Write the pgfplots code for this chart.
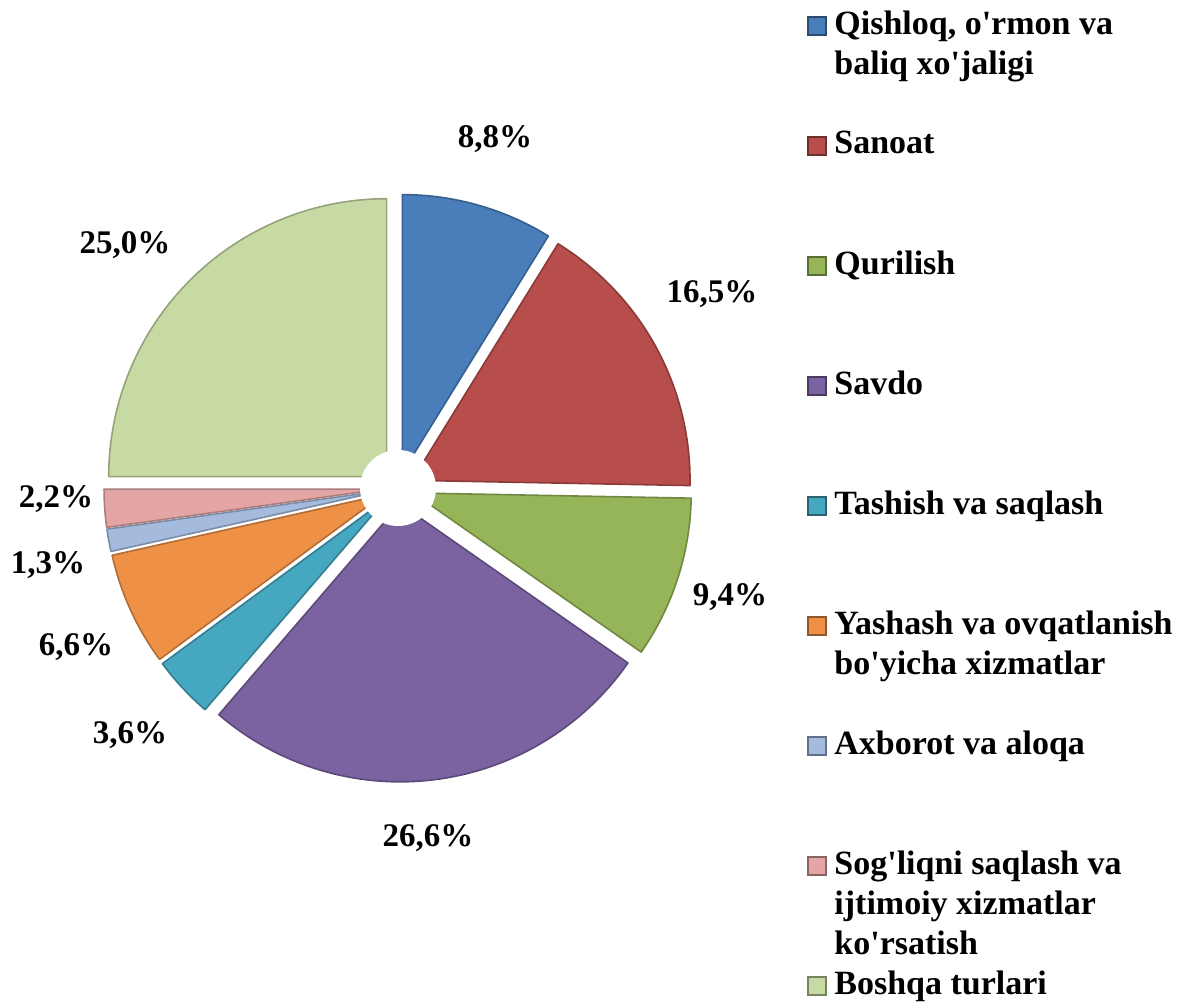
\documentclass[border=0pt]{standalone}
\usepackage{pgfplots}
\pgfplotsset{compat=1.18}
\usepackage{pgfplotstable}
\usepackage{fontspec}
\setmainfont{Liberation Serif}[BoldFont={Liberation Serif Bold}]

% slice colours, in the order of the table
\definecolor{c0}{HTML}{4A7EBB}
\definecolor{c1}{HTML}{B84E4B}
\definecolor{c2}{HTML}{95B558}
\definecolor{c3}{HTML}{7B62A0}
\definecolor{c4}{HTML}{46A7C0}
\definecolor{c5}{HTML}{EE9147}
\definecolor{c6}{HTML}{A5BBDD}
\definecolor{c7}{HTML}{E4A6A5}
\definecolor{c8}{HTML}{C8DAA3}

% share in %, position of the percent label (pixels of the picture)
\pgfplotstableread{
share labx laby
8.8   495 139
16.5  712 294
9.4   730 597
26.6  428 838
3.6   130 735
6.6   76  647
1.3   48  565
2.2   56  499
25.0  125 245
}\pietable

\def\cxo{398}  % pie centre
\def\cyo{514}
\def\rad{278}  % radius
\def\expl{16}  % explosion
\def\q{\textquotesingle}

\begin{document}
\begin{tikzpicture}
\begin{axis}[
    hide axis,
    x=0.5pt, y=0.5pt,
    xmin=0, xmax=1180, ymin=0, ymax=1002,
    scale only axis,
    clip=false,
]
\coordinate (sw) at (rel axis cs:0,0);
\coordinate (ne) at (rel axis cs:1,1);

\xdef\cum{0}
\pgfplotsinvokeforeach{0,...,8}{
  \pgfplotstablegetelem{#1}{share}\of\pietable
  \let\val\pgfplotsretval
  \pgfmathsetmacro{\a}{3.6*\cum}
  \pgfmathsetmacro{\b}{3.6*(\cum+\val)}
  \pgfmathsetmacro{\m}{(\a+\b)/2}
  \pgfmathsetmacro{\cx}{\cxo+\expl*sin(\m)}
  \pgfmathsetmacro{\cy}{\cyo+\expl*cos(\m)}
  \pgfmathsetmacro{\newcum}{\cum+\val}
  \xdef\cum{\newcum}
  \edef\temp{\noexpand\addplot[fill=c#1, draw=c#1!75!black, line width=0.8pt,
      line join=round, domain=\a:\b, samples=60, variable=\noexpand\t]
      ({\cx+\rad*sin(\noexpand\t)},{\cy+\rad*cos(\noexpand\t)})
      -- (axis cs:\cx,\cy) -- cycle;}
  \temp
  % percent label
  \pgfplotstablegetelem{#1}{labx}\of\pietable
  \let\lx\pgfplotsretval
  \pgfplotstablegetelem{#1}{laby}\of\pietable
  \let\ly\pgfplotsretval
  \pgfmathsetmacro{\lyy}{1002-\ly}
  \edef\temp{\noexpand\node[font=\noexpand\fontsize{16.5}{20}\noexpand\selectfont\noexpand\bfseries]
      at (axis cs:\lx,\lyy) {\noexpand\pgfmathprintnumber[fixed,fixed zerofill,precision=1,use comma,assume math mode=true]{\val}\noexpand\%};}
  \temp
}
% hole in the middle
\fill[white] (axis cs:\cxo,\cyo) circle[radius=19pt];
\end{axis}

% legend, in the same pixel units as the axis
\begin{scope}[shift={(sw)}, x=0.5pt, y=0.5pt]
\foreach \txt [count=\legi from 0] in {
    {Qishloq, o\q rmon va\\baliq xo\q jaligi},
    {Sanoat},
    {Qurilish},
    {Savdo},
    {Tashish va saqlash},
    {Yashash va ovqatlanish\\bo\q yicha xizmatlar},
    {Axborot va aloqa},
    {Sog\q liqni saqlash va\\ijtimoiy xizmatlar\\ko\q rsatish},
    {Boshqa turlari}}{
  \pgfmathsetmacro{\yy}{1002-26-120*\legi}
  \path[fill=c\legi, draw=c\legi!60!black, line width=0.6pt]
    (808,\yy-9) rectangle (826,\yy+9);
  \node[anchor=north west, align=left, inner sep=0pt,
        font=\fontsize{17}{19.8}\selectfont\bfseries]
    at (834,\yy+15) {\txt};
}
\end{scope}
\pgfresetboundingbox
\path (sw) rectangle (ne);
\end{tikzpicture}
\end{document}
